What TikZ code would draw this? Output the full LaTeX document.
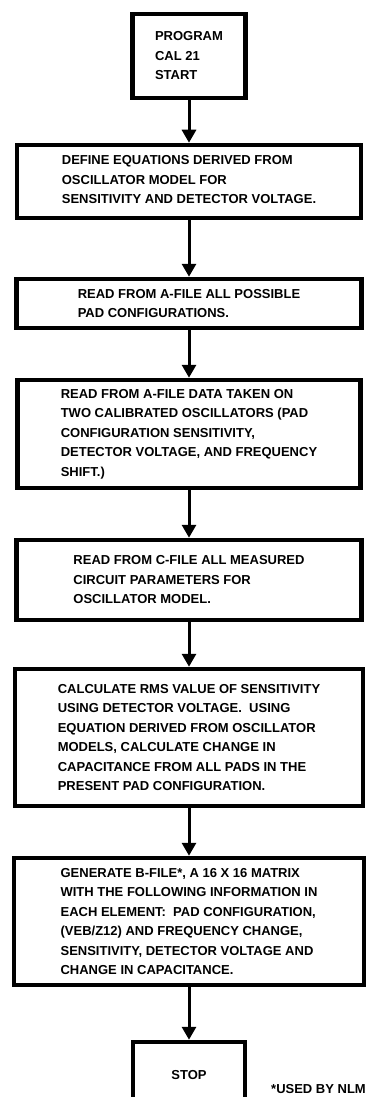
\documentclass[tikz,border=0pt]{standalone}
\usepackage{fontspec}
\setmainfont{Liberation Sans}
\usetikzlibrary{arrows.meta}

\begin{document}
\begin{tikzpicture}[x=1pt, y=-1pt,
  box/.style={draw, line width=4.5pt, align=left, inner sep=0pt, font=\bfseries\fontsize{13}{19.5}\selectfont},
  flow/.style={line width=3pt, -{Triangle[width=14pt,length=13pt]}}]
  \useasboundingbox (0,0) rectangle (367,1097);

  \node[box, minimum width=113, minimum height=84] (start) at (189,56) {PROGRAM\\CAL 21\\START};
  \node[box, minimum width=344, minimum height=73] (define) at (189,181.5)
    {\\[-14pt]DEFINE EQUATIONS DERIVED FROM\\OSCILLATOR MODEL FOR\\SENSITIVITY AND DETECTOR VOLTAGE.};
  \node[box, minimum width=345, minimum height=49] (padcfg) at (189,303.5)
    {READ FROM A-FILE ALL POSSIBLE\\PAD CONFIGURATIONS.};
  \node[box, minimum width=343, minimum height=108] (calib) at (189,434)
    {READ FROM A-FILE DATA TAKEN ON\\TWO CALIBRATED OSCILLATORS (PAD\\CONFIGURATION SENSITIVITY,\\DETECTOR VOLTAGE, AND FREQUENCY\\SHIFT.)};
  \node[box, minimum width=345, minimum height=80] (circuit) at (189,580)
    {READ FROM C-FILE ALL MEASURED\\CIRCUIT PARAMETERS FOR\\OSCILLATOR MODEL.};
  \node[box, minimum width=348, minimum height=137] (rms) at (189,737.5)
    {CALCULATE RMS VALUE OF SENSITIVITY\\USING DETECTOR VOLTAGE.\ \ USING\\EQUATION DERIVED FROM OSCILLATOR\\MODELS, CALCULATE CHANGE IN\\CAPACITANCE FROM ALL PADS IN THE\\PRESENT PAD CONFIGURATION.};
  \node[box, minimum width=350, minimum height=127] (bfile) at (189,921.5)
    {GENERATE B-FILE*, A 16 X 16 MATRIX\\WITH THE FOLLOWING INFORMATION IN\\EACH ELEMENT:\ \ PAD CONFIGURATION,\\(VEB/Z12) AND FREQUENCY CHANGE,\\SENSITIVITY, DETECTOR VOLTAGE AND\\CHANGE IN CAPACITANCE.};
  \node[box, minimum width=112, minimum height=66] (stop) at (189,1075) {STOP};

  \node[anchor=base west, inner sep=0pt, font=\bfseries\fontsize{13}{15}\selectfont] (note) at (271,1093) {*USED BY NLM};

  % flow arrows
  \draw[flow] (start) -- (define);
  \draw[flow] (define) -- (padcfg);
  \draw[flow] (padcfg) -- (calib);
  \draw[flow] (calib) -- (circuit);
  \draw[flow] (circuit) -- (rms);
  \draw[flow] (rms) -- (bfile);
  \draw[flow] (bfile) -- (stop);
\end{tikzpicture}
\end{document}
